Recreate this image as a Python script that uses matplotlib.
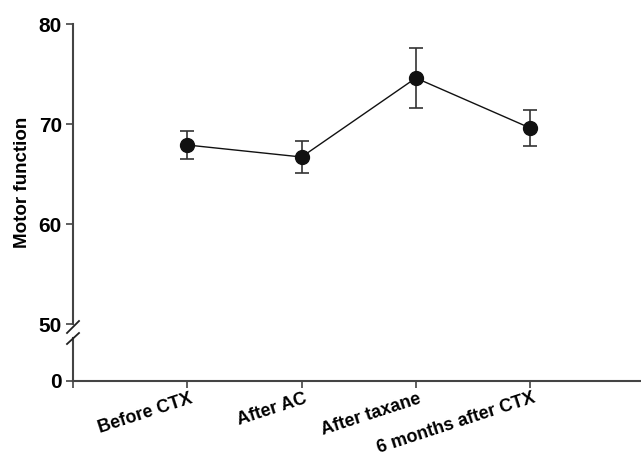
import matplotlib

matplotlib.use("Agg")
import matplotlib.pyplot as plt  # noqa: E402
import matplotlib.transforms as mtransforms  # noqa: E402
from matplotlib.lines import Line2D  # noqa: E402

# values
timepoints = ["Before CTX", "After AC", "After taxane", "6 months after CTX"]
motor_mean = [67.9, 66.7, 74.6, 69.6]
motor_err = [1.4, 1.6, 3.0, 1.8]
upper_ticks = [50, 60, 70, 80]
lower_ticks = [0]

plt.rcParams["font.family"] = ["Liberation Sans", "DejaVu Sans"]
plt.rcParams["font.weight"] = "bold"

W, H = 641, 459
fig = plt.figure(figsize=(W / 100, H / 100), dpi=100)

spine_col = "#444444"
x = list(range(1, len(timepoints) + 1))

# upper panel: 50-80
ax = fig.add_axes([73 / W, 1 - 324 / H, 1 - 73 / W, 300 / H])
ax.errorbar(x, motor_mean, yerr=motor_err, fmt="-o", color="#111111", lw=1.0,
            ms=10, ecolor="#333333", elinewidth=1.2, capsize=5, capthick=1.2)
ax.set_xlim(0, 4.97)
ax.set_ylim(50, 80)
ax.set_yticks(upper_ticks)
ax.set_xticks([])
for s in ("top", "right", "bottom"):
    ax.spines[s].set_visible(False)
ax.spines["left"].set_color(spine_col)
ax.spines["left"].set_linewidth(1.5)
ax.spines["left"].set_bounds(50, 80)
ax.tick_params(axis="y", length=5, width=1.2, color=spine_col, labelsize=15, pad=3)
ax.set_ylabel("Motor function", fontsize=13.5, fontweight="bold")
ax.yaxis.set_label_coords(-0.074, 0.473)

# lower panel: just the zero
ax0 = fig.add_axes([73 / W, 1 - 381 / H, 1 - 73 / W, 43 / H])
ax0.set_xlim(0, 4.97)
ax0.set_ylim(0, 1)
ax0.set_yticks(lower_ticks)
ax0.set_xticks([0] + x)
ax0.set_xticklabels([""] + timepoints, rotation=18, ha="right",
                    rotation_mode="anchor", fontsize=13)
for s in ("top", "right"):
    ax0.spines[s].set_visible(False)
for s in ("left", "bottom"):
    ax0.spines[s].set_color(spine_col)
    ax0.spines[s].set_linewidth(1.5)
ax0.tick_params(axis="y", length=5, width=1.2, color=spine_col, labelsize=15, pad=3)
ax0.tick_params(axis="x", length=5, width=1.2, color=spine_col, pad=1.5)
shift = mtransforms.ScaledTranslation(2 / 100, 0, fig.dpi_scale_trans)
for lbl in ax0.get_xticklabels():
    lbl.set_va("top")
    lbl.set_transform(lbl.get_transform() + shift)

# axis break marks
for (x1, y1, x2, y2) in [(67, 333, 79, 321), (67, 344, 79, 333)]:
    fig.add_artist(Line2D([x1 / W, x2 / W], [1 - y1 / H, 1 - y2 / H],
                          transform=fig.transFigure, color="#222222", lw=1.3))

fig.savefig("out.png", dpi=100)
